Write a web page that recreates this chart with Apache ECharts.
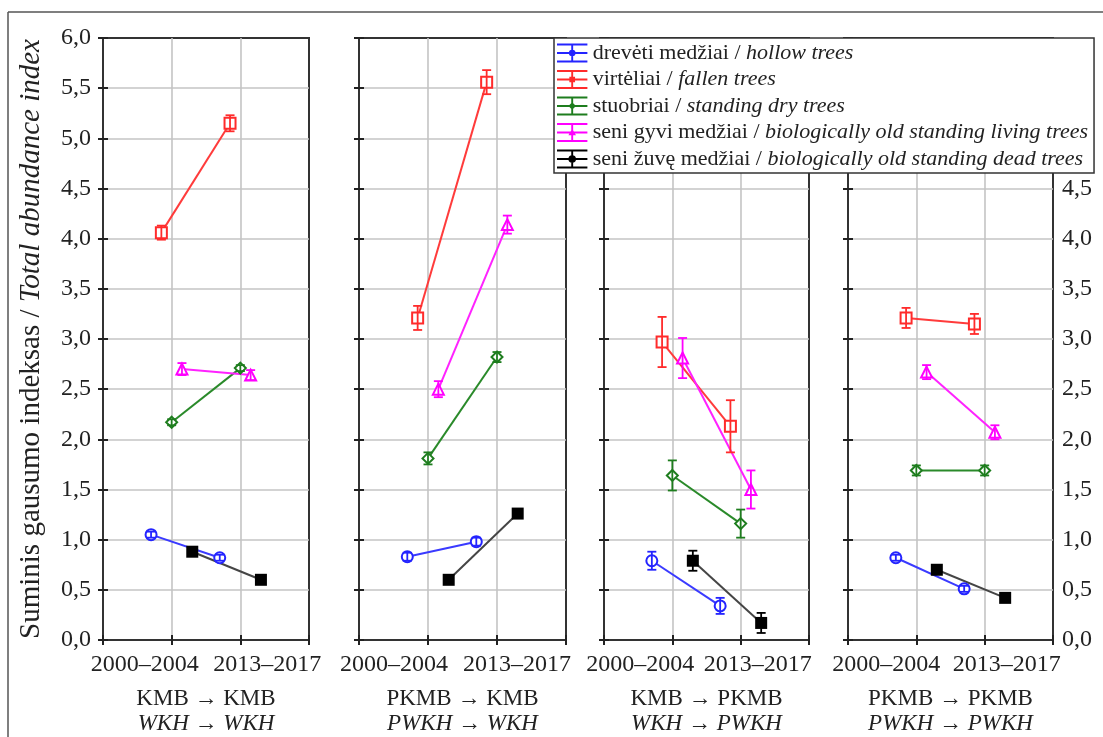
<!DOCTYPE html>
<html>
<head>
<meta charset="utf-8">
<script src="https://cdn.jsdelivr.net/npm/echarts@6/dist/echarts.min.js"></script>
<style>
html,body{margin:0;padding:0;background:#fff;}
#chart{width:1103px;height:737px;}
</style>
</head>
<body>
<div id="chart"></div>
<script>
// ---------- data ----------
const periods = ['2000–2004', '2013–2017'];
const transitionsLT = ['KMB → KMB', 'PKMB → KMB', 'KMB → PKMB', 'PKMB → PKMB'];
const transitionsEN = ['WKH → WKH', 'PWKH → WKH', 'WKH → PWKH', 'PWKH → PWKH'];
const seriesLT = ['drevėti medžiai', 'virtėliai', 'stuobriai', 'seni gyvi medžiai', 'seni žuvę medžiai'];
const seriesEN = ['hollow trees', 'fallen trees', 'standing dry trees',
  'biologically old standing living trees', 'biologically old standing dead trees'];
const yTitleLT = 'Suminis gausumo indeksas / ';
const yTitleEN = 'Total abundance index';

// values per panel: [2000–2004, 2013–2017]
const hollowTrees    = [[1.05, 0.82], [0.83, 0.98], [0.79, 0.34], [0.82, 0.51]];
const hollowTreesErr = [[0.03, 0.03], [0.04, 0.04], [0.09, 0.08], [0.03, 0.03]];
const fallenTrees    = [[4.06, 5.15], [3.21, 5.56], [2.97, 2.13], [3.21, 3.15]];
const fallenTreesErr = [[0.07, 0.08], [0.12, 0.12], [0.25, 0.26], [0.10, 0.10]];
const standingDry    = [[2.17, 2.71], [1.81, 2.82], [1.64, 1.16], [1.69, 1.69]];
const standingDryErr = [[0.03, 0.03], [0.06, 0.05], [0.15, 0.14], [0.05, 0.05]];
const oldLiving      = [[2.70, 2.64], [2.50, 4.14], [2.81, 1.50], [2.67, 2.07]];
const oldLivingErr   = [[0.06, 0.05], [0.08, 0.09], [0.20, 0.19], [0.07, 0.07]];
const oldDead        = [[0.88, 0.60], [0.60, 1.26], [0.79, 0.17], [0.70, 0.42]];
const oldDeadErr     = [[0.03, 0.03], [0.03, 0.03], [0.10, 0.10], [0.03, 0.03]];

// ---------- styles ----------
const FONT = '"Liberation Serif", "DejaVu Serif", serif';
const values = [hollowTrees, fallenTrees, standingDry, oldLiving, oldDead];
const errors = [hollowTreesErr, fallenTreesErr, standingDryErr, oldLivingErr, oldDeadErr];
const colors = ['#2424ff', '#ff2b2b', '#1e7d1e', '#ff00ff', '#000000'];
const lineColors = ['#3a3aff', '#ff3b3b', '#2a8a2a', '#ff22ff', '#454545'];
const symbols = ['emptyCircle', 'emptyRect', 'emptyDiamond', 'emptyTriangle', 'rect'];
const symbolSizes = [11, 11, 11, 11, 12];
const dodge = [-0.3, -0.15, 0, 0.15, 0.3];
const gridLefts = [103, 359, 604, 848];
const gridWidths = [206, 207, 205, 205];
// horizontal shift (px) of the two period labels in each panel, to avoid overlap
const labelShift = [[-27, 27], [-34, 20], [-32, 17], [-30, 22]];

const bars = 'M0,0H32V2H0Z M0,9H32V11H0Z M0,18H32V20H0Z M15,0H17V20H15Z ';
const legendIcons = [
  'path://' + bars + 'M12.5,10a3.5,3.5 0 1,1 7,0a3.5,3.5 0 1,1 -7,0Z',
  'path://' + bars + 'M13,7H19V13H13Z',
  'path://' + bars + 'M16,6L20,10L16,14L12,10Z',
  'path://' + bars + 'M16,6L20,13H12Z',
  'path://' + bars + 'M12,10a4,4 0 1,1 8,0a4,4 0 1,1 -8,0Z'
];

const fmt = v => v.toFixed(1).replace('.', ',');

const grids = [], xAxes = [], yAxes = [], series = [];
for (let p = 0; p < 4; p++) {
  grids.push({left: gridLefts[p], width: gridWidths[p], top: 38, height: 602,
    outerBoundsMode: 'none', containLabel: false,
    show: true, borderColor: '#333', borderWidth: 2, backgroundColor: 'transparent'});
  const sh = labelShift[p];
  // bottom x axis
  xAxes.push({type: 'value', gridIndex: p, min: 0, max: 3, interval: 1, position: 'bottom',
    axisLine: {show: false},
    axisTick: {show: true, inside: true, length: 5, lineStyle: {color: '#222', width: 2}},
    splitLine: {show: true, showMinLine: false, showMaxLine: false, lineStyle: {color: '#c4c4c4', width: 1.6}},
    axisLabel: {show: true, margin: 13, fontFamily: FONT, fontSize: 24, color: '#222',
      formatter: v => (v === 1 ? '{l|' + periods[0] + '}' : v === 2 ? '{r|' + periods[1] + '}' : ''),
      rich: {
        l: {fontFamily: FONT, fontSize: 24, color: '#222', padding: [0, -2 * sh[0], 0, 0]},
        r: {fontFamily: FONT, fontSize: 24, color: '#222', padding: [0, 0, 0, 2 * sh[1]]}
      }},
    name: '{a|' + transitionsLT[p] + '}\n{b|' + transitionsEN[p] + '}',
    nameLocation: 'middle', nameGap: 46,
    nameTextStyle: {fontFamily: FONT, color: '#222', rich: {
      a: {fontFamily: FONT, fontSize: 23, color: '#222', lineHeight: 25},
      b: {fontFamily: FONT, fontSize: 23, fontStyle: 'italic', color: '#222', lineHeight: 25}}}
  });
  // top x axis (ticks only)
  xAxes.push({type: 'value', gridIndex: p, min: 0, max: 3, interval: 1, position: 'top',
    axisLine: {show: false}, splitLine: {show: false}, axisLabel: {show: false},
    axisTick: {show: true, inside: true, length: 5, lineStyle: {color: '#222', width: 2}}});
  // left y axis
  yAxes.push({type: 'value', gridIndex: p, min: 0, max: 6, interval: 0.5, position: 'left',
    axisLine: {show: false},
    axisTick: {show: true, inside: true, length: 5, lineStyle: {color: '#222', width: 2}},
    splitLine: {show: true, showMinLine: false, showMaxLine: false, lineStyle: {color: '#c4c4c4', width: 1.6}},
    axisLabel: {show: p === 0, margin: 12, fontFamily: FONT, fontSize: 24, color: '#222', formatter: fmt},
    name: p === 0 ? '{a|' + yTitleLT + '}{b|' + yTitleEN + '}' : '',
    nameLocation: 'middle', nameRotate: 90, nameGap: 57,
    nameTextStyle: {fontFamily: FONT, color: '#222', rich: {
      a: {fontFamily: FONT, fontSize: 29, color: '#222'},
      b: {fontFamily: FONT, fontSize: 29, fontStyle: 'italic', color: '#222'}}}
  });
  // right y axis (labels hidden where the legend covers them in the original)
  yAxes.push({type: 'value', gridIndex: p, min: 0, max: 6, interval: 0.5, position: 'right',
    axisLine: {show: false}, splitLine: {show: false},
    axisTick: {show: true, inside: true, length: 5, lineStyle: {color: '#222', width: 2}},
    axisLabel: {show: p === 3, margin: 9, fontFamily: FONT, fontSize: 24, color: '#222',
      formatter: v => (v > 4.5 ? '' : fmt(v))}
  });

  for (let s = 0; s < 5; s++) {
    const pts = values[s][p].map((v, i) => [i + 1 + dodge[s], v]);
    series.push({
      type: 'line', name: seriesLT[s], xAxisIndex: 2 * p, yAxisIndex: 2 * p,
      data: pts, symbol: symbols[s], symbolSize: symbolSizes[s], z: 3,
      lineStyle: {color: lineColors[s], width: 2},
      itemStyle: {color: colors[s], borderWidth: 2},
      emphasis: {disabled: true}, animation: false
    });
    const errData = values[s][p].map((v, i) => [i + 1 + dodge[s], v - errors[s][p][i], v + errors[s][p][i]]);
    series.push({
      type: 'custom', name: seriesLT[s], xAxisIndex: 2 * p, yAxisIndex: 2 * p, z: 4,
      data: errData, encode: {x: 0, y: [1, 2]}, animation: false,
      renderItem: (params, api) => {
        const x = api.value(0);
        const lo = api.coord([x, api.value(1)]);
        const hi = api.coord([x, api.value(2)]);
        const cap = 4.5;
        const st = {stroke: colors[s], lineWidth: 1.8};
        return {type: 'group', children: [
          {type: 'line', shape: {x1: lo[0], y1: lo[1], x2: hi[0], y2: hi[1]}, style: st},
          {type: 'line', shape: {x1: lo[0] - cap, y1: lo[1], x2: lo[0] + cap, y2: lo[1]}, style: st},
          {type: 'line', shape: {x1: hi[0] - cap, y1: hi[1], x2: hi[0] + cap, y2: hi[1]}, style: st}
        ]};
      }
    });
  }
}

const option = {
  backgroundColor: '#fff',
  animation: false,
  grid: grids,
  xAxis: xAxes,
  yAxis: yAxes,
  series: series,
  legend: {
    orient: 'vertical', left: 554, top: 38,
    padding: [4, 6, 3, 3], itemGap: 4.5, itemWidth: 31, itemHeight: 19,
    backgroundColor: '#fff', borderColor: '#333', borderWidth: 1.5, borderRadius: 0,
    selectedMode: false, z: 10,
    itemStyle: {borderWidth: 0},
    data: seriesLT.map((n, i) => ({name: n, icon: legendIcons[i], itemStyle: {color: colors[i], borderWidth: 0}})),
    formatter: name => '{a|' + name + ' / }{b|' + seriesEN[seriesLT.indexOf(name)] + '}',
    textStyle: {fontFamily: FONT, color: '#222', rich: {
      a: {fontFamily: FONT, fontSize: 22, color: '#222', lineHeight: 21},
      b: {fontFamily: FONT, fontSize: 22, fontStyle: 'italic', color: '#222', lineHeight: 21}}}
  },
  graphic: [
    {type: 'line', shape: {x1: 8, y1: 12, x2: 1103, y2: 12}, style: {stroke: '#555', lineWidth: 1.5}, z: 0},
    {type: 'line', shape: {x1: 8, y1: 12, x2: 8, y2: 737}, style: {stroke: '#555', lineWidth: 1.5}, z: 0}
  ]
};

const chart = echarts.init(document.getElementById('chart'), null, {renderer: 'canvas'});
chart.setOption(option);
</script>
</body>
</html>
